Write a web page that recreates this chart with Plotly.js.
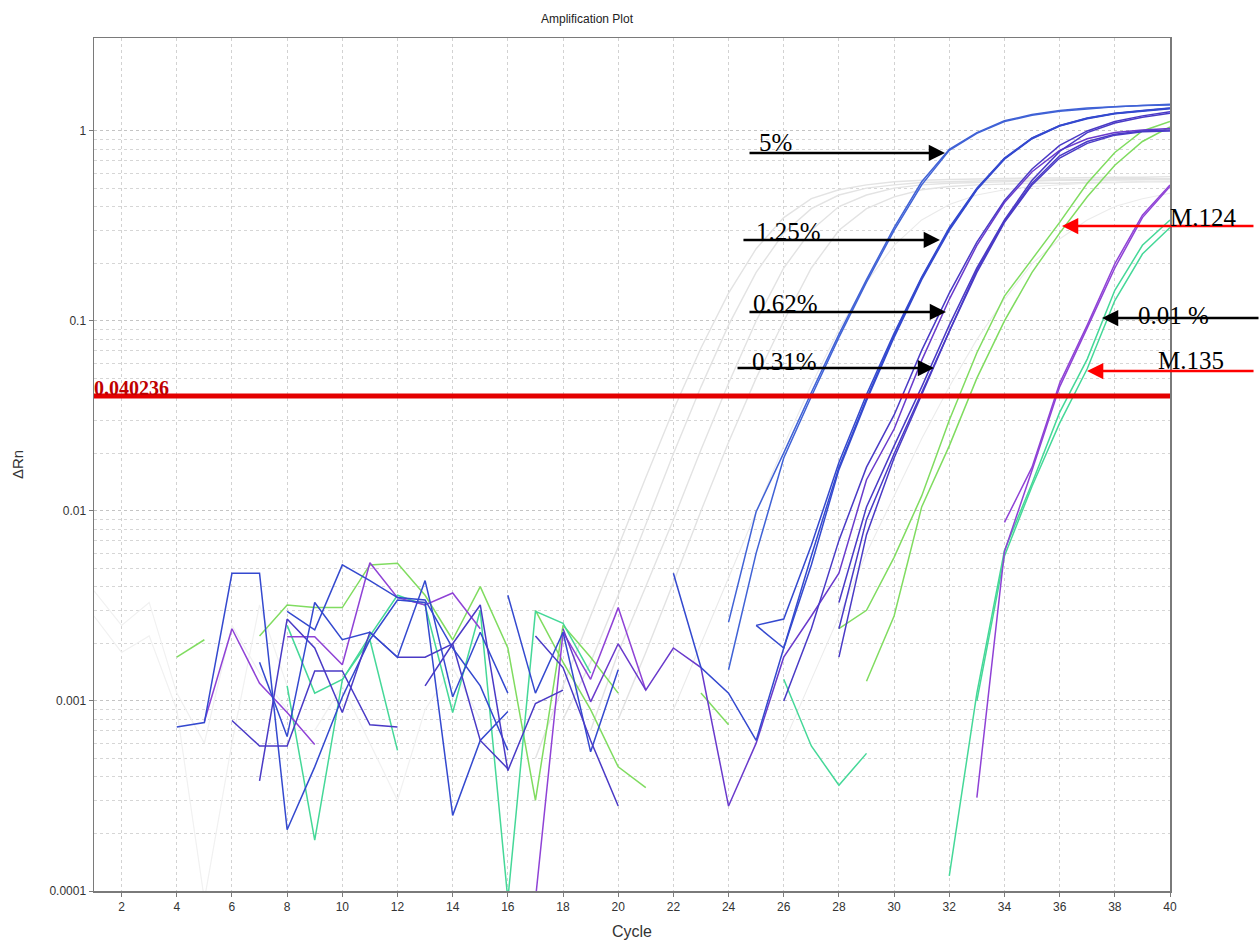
<!DOCTYPE html>
<html>
<head>
<meta charset="utf-8">
<script src="https://cdn.plot.ly/plotly-3.0.1.min.js"></script>
<style>html,body{margin:0;padding:0;background:#fff;}#chart{width:1260px;height:944px;}</style>
</head>
<body>
<div id="chart"></div>
<script>
const _ = null;
const cycles = [1,2,3,4,5,6,7,8,9,10,11,12,13,14,15,16,17,18,19,20,21,22,23,24,25,26,27,28,29,30,31,32,33,34,35,36,37,38,39,40];
const threshold = 0.040236;
const thresholdLabel = "0.040236";

// faint grey background samples
const gray1 = [_,_,_,_,_,_,_,_,_,_, _,_,_,_,_,_,.0005,.0012,.0028,.0065, .015,.034,.072,.14,.24,.35,.44,.49,.52,.54, .55,.555,.56,.56,.565,.565,.57,.57,.57,.575];
const gray2 = [_,_,_,_,_,_,_,_,_,_, _,_,_,_,_,_,_,.0008,.0016,.0036, .0085,.02,.045,.095,.18,.29,.39,.46,.50,.52, .535,.54,.545,.55,.55,.555,.555,.56,.56,.56];
const gray3 = [_,_,_,_,_,_,_,_,_,_, _,_,_,_,_,_,_,_,.0007,.0018, .004,.009,.021,.047,.10,.19,.30,.40,.46,.50, .52,.53,.535,.54,.545,.55,.55,.55,.555,.555];
const gray4 = [_,_,_,_,_,_,_,_,_,_, _,_,_,_,_,_,_,_,_,.0008, .0018,.0042,.010,.023,.05,.10,.19,.30,.39,.45, .49,.51,.52,.525,.53,.53,.535,.535,.54,.54];
const gray5 = [_,_,_,_,_,_,_,_,_,_, _,_,_,_,_,_,_,_,_,_, _,_,_,_,_,.0006,.0013,.0028,.006,.012, .024,.045,.08,.13,.2,.27,.34,.4,.44,.47];
const gray6 = [_,_,_,_,_,_,_,_,_,_, _,_,_,_,_,_,_,_,_,_, _,.0009,.002,.0045,.01,.022,.046,.09,.16,.25, .34,.41,.46,.49,.51,.52,.53,.535,.54,.545];
const grayN1 = [.0038,.0025,.0033,.0011,.0006,.0025,.0014,.0009,_,_, _,_,_,_,_,_,_,_,_,_, _,_,_,_,_,_,_,_,_,_, _,_,_,_,_,_,_,_,_,_];
const grayN2 = [.0028,.0018,.0022,.0009,.00009,.0006,.0032,.0012,_,_, _,_,_,_,_,_,_,_,_,_, _,_,_,_,_,_,_,_,_,_, _,_,_,_,_,_,_,_,_,_];
const grayN3 = [_,_,_,_,_,_,_,_,.0007,.0012, .0006,.0003,.0009,.0015,.0008,_,_,_,_,_, _,_,_,_,_,_,_,_,_,_, _,_,_,_,_,_,_,_,_,_];

// 5 %
const blue5a = [_,_,_,_,_,_,_,_,_,_, _,_,_,_,_,_,_,_,_,_, _,_,_,.0026,.0099,.0202,.042,.085,.165,.31, .54,.80,.98,1.13,1.22,1.28,1.32,1.34,1.36,1.38];
const blue5b = [_,_,_,_,_,_,_,_,_,_, _,_,_,_,_,_,_,_,_,_, _,_,_,.00146,.006,.019,.040,.082,.16,.30, .52,.79,.97,1.12,1.21,1.27,1.31,1.34,1.36,1.37];
// 1.25 %
const blue125a = [_,_,_,_,_,_,_,_,_,_, _,_,_,_,_,_,_,_,_,_, _,.0047,.0015,.0011,.00062,.0019,.0052,.0165,.038,.082, .165,.30,.49,.71,.91,1.06,1.16,1.23,1.27,1.31];
const blue125b = [_,_,_,_,_,_,_,_,_,_, _,_,_,_,_,_,_,_,_,_, _,_,_,_,.0025,.0027,.0066,.018,.041,.086, .17,.31,.50,.72,.92,1.07,1.17,1.24,1.28,1.32];
const blue125c = [_,_,_,_,_,_,_,_,_,_, _,_,_,_,_,_,_,_,_,_, _,_,_,_,.0025,.0019,.0058,.017,.039,.084, .168,.305,.495,.715,.915,1.065,1.165,1.235,1.275,1.315];
// 0.62 % / 0.31 %
const violet062a = [_,_,_,_,_,_,_,_,_,_, _,_,_,_,_,_,_,.0024,.00099,.0020, .00114,.0019,.0015,.00028,.0006,.0017,.0028,.0047,.0146,.027, .062,.13,.25,.42,.61,.79,.91,.98,1.01,1.03];
const indigo062b = [_,_,_,_,_,_,_,_,_,_, _,_,_,_,_,_,_,_,_,_, _,_,_,_,_,.001,.0024,.0070,.017,.032, .07,.14,.26,.43,.63,.84,1.0,1.12,1.2,1.26];
const indigo031a = [_,_,_,_,_,_,_,_,_,_, _,_,_,_,_,_,_,_,_,_, _,_,_,_,_,_,_,.0033,.0105,.022, .045,.095,.19,.34,.55,.78,.98,1.1,1.18,1.24];
const indigo031b = [_,_,_,_,_,_,_,_,_,_, _,_,_,_,_,_,_,_,_,_, _,_,_,_,_,_,_,.0017,.0075,.019, .041,.088,.18,.33,.52,.72,.86,.95,.99,1.0];
const indigo031c = [_,_,_,_,_,_,_,_,_,_, _,_,_,_,_,_,_,_,_,_, _,_,_,_,_,_,_,.0024,.009,.020, .042,.09,.185,.335,.53,.74,.88,.96,1.0,1.01];
// M.124
const green124a = [_,_,_,_,_,_,_,_,_,_, _,_,_,_,_,_,_,_,_,_, _,_,_,_,_,_,_,.0024,.0030,.0057, .012,.030,.068,.135,.21,.33,.53,.77,1.0,1.12];
const green124b = [_,_,_,_,_,_,_,_,_,_, _,_,_,_,_,_,_,_,_,_, _,_,_,_,_,_,_,_,.00127,.0028, .0105,.022,.05,.10,.18,.29,.45,.66,.88,1.05];
// 0.01 %
const purple001a = [_,_,_,_,_,_,_,_,_,_, _,_,_,_,_,_,_,_,_,_, _,_,_,_,_,_,_,_,_,_, _,_,.00031,.0061,.0164,.045,.092,.19,.35,.51];
const purple001b = [_,_,_,_,_,_,_,_,_,_, _,_,_,_,_,_,_,_,_,_, _,_,_,_,_,_,_,_,_,_, _,_,_,.0087,.017,.047,.095,.20,.36,.52];
// M.135
const teal135a = [_,_,_,_,_,_,_,_,_,_, _,_,_,_,_,_,_,_,_,_, _,_,_,_,_,_,_,_,_,_, _,.00012,.0011,.0062,.014,.033,.063,.145,.25,.34];
const teal135b = [_,_,_,_,_,_,_,_,_,_, _,_,_,_,_,_,_,_,_,_, _,_,_,_,_,_,_,_,_,_, _,_,.001,.0058,.0135,.029,.056,.128,.225,.31];

// baseline noise
const nBlue1 = [_,_,_,.00073,.00077,.0047,.0047,.00021,.00045,.00105, .0021,.0034,.0033,.00025,.00062,.00088,_,_,_,_, _,_,_,_,_,_,_,_,_,_, _,_,_,_,_,_,_,_,_,_];
const nIndigo1 = [_,_,_,_,_,.00079,.00058,.00058,.00144,.00144, .00075,.00073,_,_,_,_,_,_,_,_, _,_,_,_,_,_,_,_,_,_, _,_,_,_,_,_,_,_,_,_];
const nBlue2 = [_,_,_,_,_,_,.00038,.0027,.0019,.00087, .0023,.0017,.0017,.0020,.00062,.00044,_,_,_,_, _,_,_,_,_,_,_,_,_,_, _,_,_,_,_,_,_,_,_,_];
const nBlue3 = [_,_,_,_,_,_,_,.00296,.00237,.0052, .0043,.0035,.0034,.0019,.0012,.00055,_,_,_,_, _,_,_,_,_,_,_,_,_,_, _,_,_,_,_,_,_,_,_,_];
const nBlue4 = [_,_,_,_,_,_,.0016,.00065,.0033,.0021, .0023,.0017,.0043,.00105,.0023,.0011,_,_,_,_, _,_,_,_,_,_,_,_,_,_, _,_,_,_,_,_,_,_,_,_];
const nBlue5 = [_,_,_,_,_,_,_,_,_,_, _,_,.0012,.0020,.0032,.00043,.00097,.00114,_,_, _,_,_,_,_,_,_,_,_,_, _,_,_,_,_,_,_,_,_,_];
const nBlue6 = [_,_,_,_,_,_,_,_,_,_, _,_,_,_,_,.0036,.0011,.0023,.00054,.00146, _,_,_,_,_,_,_,_,_,_, _,_,_,_,_,_,_,_,_,_];
const nBlue7 = [_,_,_,_,_,_,_,_,_,_, _,_,_,_,_,_,.0022,.0015,.00062,.00028, _,_,_,_,_,_,_,_,_,_, _,_,_,_,_,_,_,_,_,_];
const nPurple1 = [_,_,_,_,.00078,.0024,.00124,.00087,.00059,_, _,_,_,_,_,_,_,_,_,_, _,_,_,_,_,_,_,_,_,_, _,_,_,_,_,_,_,_,_,_];
const nPurple2 = [_,_,_,_,_,_,_,.00218,.00218,.00155, .00534,.0035,.0032,.0037,.0024,_,_,_,_,_, _,_,_,_,_,_,_,_,_,_, _,_,_,_,_,_,_,_,_,_];
const nPurple3 = [_,_,_,_,_,_,_,_,_,_, _,_,_,_,_,_,.00009,.0023,.0013,.0031, .00114,_,_,_,_,_,_,_,_,_, _,_,_,_,_,_,_,_,_,_];
const nGreen1 = [_,_,_,.0017,.0021,_,_,_,_,_, _,_,_,_,_,_,_,_,_,_, _,_,_,_,_,_,_,_,_,_, _,_,_,_,_,_,_,_,_,_];
const nGreen2 = [_,_,_,_,_,_,.0022,.0032,.0031,.0031, .0052,.0053,.0036,.0021,.0040,.0019,.0003,.0025,.0017,.0011, _,_,_,_,_,_,_,_,_,_, _,_,_,_,_,_,_,_,_,_];
const nGreen3 = [_,_,_,_,_,_,_,_,_,_, _,_,_,_,_,_,.0030,.0016,.0009,.00045, .00035,_,_,_,_,_,_,_,_,_, _,_,_,_,_,_,_,_,_,_];
const nGreen4 = [_,_,_,_,_,_,_,_,_,_, _,_,_,_,_,_,_,_,_,_, _,_,.0011,.00075,_,_,_,_,_,_, _,_,_,_,_,_,_,_,_,_];
const nTeal1 = [_,_,_,_,_,_,_,.0012,.000185,.00129, .0022,.0036,.0032,.00087,.0030,.00009,.00296,.00256,.0014,_, _,_,_,_,_,_,_,_,_,_, _,_,_,_,_,_,_,_,_,_];
const nTeal2 = [_,_,_,_,_,_,_,.0025,.0011,.0013, .0021,.00055,_,_,_,_,_,_,_,_, _,_,_,_,_,_,_,_,_,_, _,_,_,_,_,_,_,_,_,_];
const nTeal3 = [_,_,_,_,_,_,_,_,_,_, _,_,_,_,_,_,_,_,_,_, _,_,_,_,_,.0013,.00058,.00036,.00053,_, _,_,_,_,_,_,_,_,_,_];

const C = {
  grayGrow: '#e3e3e3', grayNoise: '#f1f1f1',
  blue5: '#4062d6', blue125: '#3449cf', indigo: '#4a3ac6', violet: '#6a3acc',
  purple: '#8f42d6', green: '#80dc60', teal: '#45d898', red: '#e30000'
};

const series = [
  [grayN1, C.grayNoise, 1.2], [grayN2, C.grayNoise, 1.2], [grayN3, C.grayNoise, 1.2],
  [gray1, C.grayGrow, 1.4], [gray2, C.grayGrow, 1.4], [gray3, C.grayGrow, 1.4],
  [gray4, C.grayGrow, 1.4], [gray5, '#ececec', 1.1], [gray6, '#eaeaea', 1.1],
  [nGreen1, C.green, 1.5], [nGreen2, C.green, 1.5], [nGreen3, C.green, 1.5], [nGreen4, C.green, 1.5],
  [nTeal1, C.teal, 1.5], [nTeal2, C.teal, 1.5], [nTeal3, C.teal, 1.5],
  [nPurple1, C.purple, 1.5], [nPurple2, C.purple, 1.5], [nPurple3, C.purple, 1.5],
  [nBlue1, C.blue125, 1.5], [nIndigo1, C.indigo, 1.5], [nBlue2, C.indigo, 1.5], [nBlue3, C.blue125, 1.5],
  [nBlue4, C.blue125, 1.5], [nBlue5, C.indigo, 1.5], [nBlue6, C.blue125, 1.5], [nBlue7, C.indigo, 1.5],
  [teal135a, C.teal, 1.5], [teal135b, C.teal, 1.5],
  [purple001a, C.purple, 1.5], [purple001b, C.purple, 1.5],
  [green124a, C.green, 1.5], [green124b, C.green, 1.5],
  [violet062a, C.violet, 1.5], [indigo062b, C.indigo, 1.5], [indigo031a, C.indigo, 1.5],
  [indigo031b, C.indigo, 1.5], [indigo031c, C.indigo, 1.5],
  [blue125a, C.blue125, 1.5], [blue125b, C.blue125, 1.5], [blue125c, C.blue125, 1.5],
  [blue5a, C.blue5, 1.5], [blue5b, C.blue5, 1.5]
];

const traces = series.map(([vals, color, w]) => ({
  x: cycles, y: vals, type: 'scatter', mode: 'lines', connectgaps: false,
  line: {color: color, width: w}, hoverinfo: 'skip'
}));
traces.push({
  x: [cycles[0], cycles[cycles.length - 1]], y: [threshold, threshold],
  type: 'scatter', mode: 'lines', line: {color: C.red, width: 5}, hoverinfo: 'skip'
});

const minorVals = [];
for (let d = -4; d <= -1; d++) for (let m = 2; m <= 9; m++) minorVals.push(m * Math.pow(10, d));

const narrow = 'Liberation Sans Narrow, Arial Narrow, Liberation Sans, Arial, sans-serif';
const serif = 'Liberation Serif, Times New Roman, serif';

function arrow(x, y, ax, color) {
  return {xref: 'paper', yref: 'paper', x: x, y: y, ax: ax, ay: 0, text: '',
    showarrow: true, arrowhead: 2, arrowsize: 1.25, arrowwidth: 2.6, arrowcolor: color, standoff: 0};
}
function label(x, y, text) {
  return {xref: 'paper', yref: 'paper', x: x, y: y, text: text, showarrow: false,
    xanchor: 'center', yanchor: 'middle', font: {family: serif, size: 25, color: '#000'}};
}

const annotations = [
  arrow(0.7909, 0.8652, -197, '#000'), label(0.6338, 0.8775, '5%'),
  arrow(0.7862, 0.7632, -198, '#000'), label(0.6459, 0.7737, '1.25%'),
  arrow(0.7918, 0.6788, -198, '#000'), label(0.6431, 0.6893, '0.62%'),
  arrow(0.7807, 0.6131, -198, '#000'), label(0.6413, 0.6213, '0.31%'),
  arrow(0.8996, 0.7796, 193, '#ff0000'), label(1.0307, 0.7901, 'M.124'),
  arrow(0.9368, 0.6717, 158, '#000'), label(1.0037, 0.6741, '0.01 %'),
  arrow(0.9229, 0.6096, 168, '#ff0000'), label(1.0195, 0.6225, 'M.135'),
  {xref: 'paper', yref: 'paper', x: 0.0344, y: 0.5897, text: '<b>' + thresholdLabel + '</b>', showarrow: false,
   xanchor: 'center', yanchor: 'middle', font: {family: serif, size: 20, color: '#c00000'}}
];

const layout = {
  width: 1260, height: 944,
  margin: {l: 94, r: 90, t: 38, b: 53, pad: 0},
  paper_bgcolor: '#ffffff', plot_bgcolor: '#ffffff',
  showlegend: false, hovermode: false,
  title: {text: 'Amplification Plot', x: 587 / 1260, xref: 'container', xanchor: 'center',
          y: 1 - 19 / 944, yref: 'container', yanchor: 'middle',
          font: {family: 'Liberation Sans, Arial, sans-serif', size: 12, color: '#222'}},
  xaxis: {
    range: [1, 40], tickmode: 'linear', tick0: 0, dtick: 2,
    showgrid: true, gridcolor: '#d2d2d2', griddash: 'dot', gridwidth: 1,
    zeroline: false, showline: true, linecolor: '#7a7a7a', linewidth: 1.5, mirror: true,
    ticks: 'outside', ticklen: 4, tickcolor: '#7a7a7a',
    tickfont: {family: narrow, size: 12, color: '#333'},
    title: {text: 'Cycle', standoff: 13, font: {family: narrow, size: 16, color: '#333'}}
  },
  yaxis: {
    type: 'log', range: [-4, 0.489],
    tickmode: 'array', tickvals: [0.0001, 0.001, 0.01, 0.1, 1],
    ticktext: ['0.0001', '0.001', '0.01', '0.1', '1'],
    showgrid: true, gridcolor: '#c4c4c4', griddash: 'dot', gridwidth: 1,
    minor: {tickmode: 'array', tickvals: minorVals, showgrid: true, gridcolor: '#d6d6d6', griddash: 'dot', gridwidth: 1, ticks: ''},
    zeroline: false, showline: true, linecolor: '#7a7a7a', linewidth: 1.5, mirror: true,
    ticks: 'outside', ticklen: 4, tickcolor: '#7a7a7a',
    tickfont: {family: narrow, size: 12, color: '#333'},
    title: {text: 'ΔRn', standoff: 22, font: {family: 'Liberation Sans, Arial, sans-serif', size: 15, color: '#333'}}
  },
  annotations: annotations
};

Plotly.newPlot('chart', traces, layout, {displayModeBar: false, staticPlot: true});
</script>
</body>
</html>
